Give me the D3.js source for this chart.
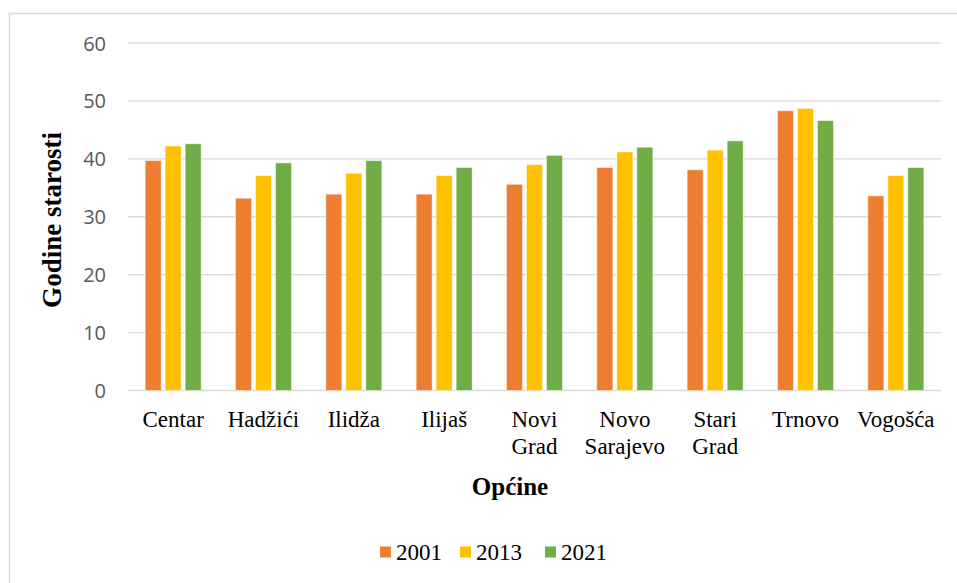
<!DOCTYPE html>
<html>
<head>
<meta charset="utf-8">
<script src="https://cdn.jsdelivr.net/npm/d3@7"></script>
<style>
  html, body { margin: 0; padding: 0; background: #fff; }
  svg { display: block; }
</style>
</head>
<body>
<svg id="chart" width="957" height="583"></svg>
<script>
// Municipalities of Sarajevo Canton (category axis)
const categories = [
  ["Centar"], ["Hadžići"], ["Ilidža"], ["Ilijaš"], ["Novi", "Grad"],
  ["Novo", "Sarajevo"], ["Stari", "Grad"], ["Trnovo"], ["Vogošća"]
];
const categoryKeys = categories.map(c => c.join(" "));

// Census years (series)
const years = ["2001", "2013", "2021"];

// Average age per municipality, one array per census year
const values2001 = [39.7, 33.2, 33.9, 33.9, 35.6, 38.5, 38.1, 48.3, 33.6];
const values2013 = [42.2, 37.1, 37.5, 37.1, 39.0, 41.2, 41.5, 48.7, 37.1];
const values2021 = [42.6, 39.3, 39.7, 38.5, 40.6, 42.0, 43.1, 46.6, 38.5];
const seriesValues = [values2001, values2013, values2021];

const yTicks = [0, 10, 20, 30, 40, 50, 60];
const colors = ["#ED7D31", "#FFC000", "#70AD47"];

const svg = d3.select("#chart");

// Outer chart frame
svg.append("rect")
  .attr("x", 9.5).attr("y", 13.5)
  .attr("width", 960).attr("height", 600)
  .attr("fill", "none").attr("stroke", "#d9d9d9").attr("stroke-width", 1.5);

const plot = { left: 128, right: 941, top: 43, bottom: 390.5 };

const x = d3.scaleBand()
  .domain(categoryKeys)
  .range([plot.left, plot.right])
  .paddingInner(0).paddingOuter(0);

const groupHalf = 28;
const x1 = d3.scaleBand()
  .domain(years)
  .range([-groupHalf, groupHalf])
  .paddingInner(0.2).paddingOuter(0);

const y = d3.scaleLinear()
  .domain([0, 60])
  .range([plot.bottom, plot.top]);

// Horizontal gridlines
svg.append("g")
  .selectAll("line")
  .data(yTicks)
  .join("line")
  .attr("x1", plot.left).attr("x2", plot.right)
  .attr("y1", d => y(d)).attr("y2", d => y(d))
  .attr("stroke", "#d9d9d9").attr("stroke-width", 1.4);

// Y axis tick labels
const yAxis = d3.axisLeft(y).tickValues(yTicks).tickSize(0).tickPadding(0);
const yg = svg.append("g")
  .attr("transform", "translate(106,0)")
  .call(yAxis);
yg.select(".domain").remove();
yg.selectAll("text")
  .attr("fill", "#595959")
  .attr("font-family", "'Open Sans', sans-serif")
  .attr("font-size", 20)
  .attr("dy", "0.35em");

// Bars
const rows = [];
categoryKeys.forEach((cat, i) => {
  years.forEach((yr, j) => {
    rows.push({ cat, yr, value: seriesValues[j][i], color: colors[j] });
  });
});

svg.append("g")
  .selectAll("rect")
  .data(rows)
  .join("rect")
  .attr("x", d => x(d.cat) + x.bandwidth() / 2 + x1(d.yr))
  .attr("width", x1.bandwidth())
  .attr("y", d => y(d.value))
  .attr("height", d => y(0) - y(d.value))
  .attr("fill", d => d.color)
  .attr("stroke", "#ffffff")
  .attr("stroke-opacity", 0.45)
  .attr("stroke-width", 1);

// Category labels (may wrap onto two lines)
const xl = svg.append("g")
  .selectAll("text")
  .data(categories)
  .join("text")
  .attr("x", (d, i) => x(categoryKeys[i]) + x.bandwidth() / 2)
  .attr("y", 427)
  .attr("text-anchor", "middle")
  .attr("font-family", "'Liberation Serif', 'Times New Roman', serif")
  .attr("font-size", 23)
  .attr("fill", "#000");
xl.selectAll("tspan")
  .data(d => d)
  .join("tspan")
  .attr("x", function () { return d3.select(this.parentNode).attr("x"); })
  .attr("dy", (d, i) => i === 0 ? 0 : 27)
  .text(d => d);

// Axis titles
svg.append("text")
  .attr("x", 510).attr("y", 495)
  .attr("text-anchor", "middle")
  .attr("font-family", "'Liberation Serif', 'Times New Roman', serif")
  .attr("font-weight", "bold")
  .attr("font-size", 25)
  .text("Općine");

svg.append("text")
  .attr("transform", "translate(61,220) rotate(-90)")
  .attr("text-anchor", "middle")
  .attr("font-family", "'Liberation Serif', 'Times New Roman', serif")
  .attr("font-weight", "bold")
  .attr("font-size", 27)
  .text("Godine starosti");

// Legend
const legendX = [380, 460, 545];
const legend = svg.append("g")
  .selectAll("g")
  .data(years)
  .join("g")
  .attr("transform", (d, i) => `translate(${legendX[i]},0)`);
legend.append("rect")
  .attr("x", 0).attr("y", 546.5)
  .attr("width", 11).attr("height", 11)
  .attr("fill", (d, i) => colors[i]);
legend.append("text")
  .attr("x", 16).attr("y", 560)
  .attr("font-family", "'Liberation Serif', 'Times New Roman', serif")
  .attr("font-size", 23)
  .text(d => d);
</script>
</body>
</html>
